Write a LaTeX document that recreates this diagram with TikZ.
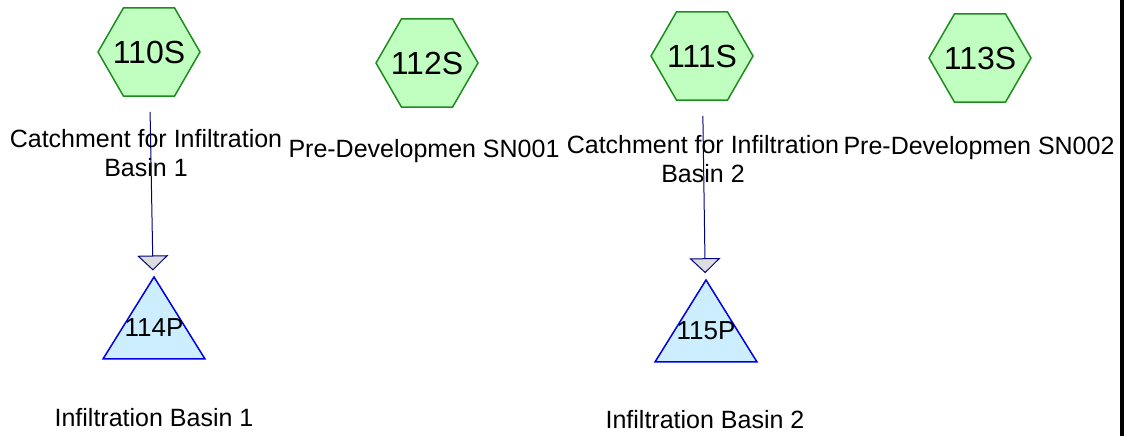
\documentclass[tikz,border=0pt]{standalone}
\usepackage{fontspec}
\setmainfont{Liberation Sans}
\usetikzlibrary{shapes.geometric,arrows.meta}
\definecolor{hexfill}{RGB}{192,255,192}
\definecolor{hexline}{RGB}{30,140,30}
\definecolor{pondfill}{RGB}{204,238,255}
\definecolor{pondline}{RGB}{0,0,225}
\definecolor{flowline}{RGB}{0,0,128}
\definecolor{tipfill}{RGB}{221,221,221}
\newcommand{\nodeid}[1]{\makebox[0pt]{#1}}
\begin{document}
\begin{tikzpicture}[
  x=1pt,y=-1pt,
  subcat/.style={draw=hexline, line width=1.5pt, fill=hexfill, regular polygon, regular polygon sides=6, minimum size=102pt, inner sep=0pt, font=\fontsize{32}{32}\selectfont},
  pond/.style={draw=pondline, line width=1.5pt, fill=pondfill, isosceles triangle, isosceles triangle stretches, shape border rotate=90, minimum width=102pt, minimum height=82pt, inner sep=0pt, font=\fontsize{26}{26}\selectfont},
  flow/.style={draw=flowline, line width=1pt, -{Triangle[width=31pt,length=15pt,fill=tipfill]}, shorten <=15pt, shorten >=6pt},
  lbl/.style={font=\fontsize{25}{29}\selectfont, inner sep=0pt, align=center}
]
\useasboundingbox (0,0) rectangle (1140,436);

% subcatchments
\node[subcat] (110S) at (149,52) {\nodeid{110S}};
\node[subcat] (112S) at (427,63) {\nodeid{112S}};
\node[subcat] (111S) at (702,56) {\nodeid{111S}};
\node[subcat] (113S) at (980,58) {\nodeid{113S}};

% ponds
\node[pond, anchor=apex] (114P) at (154,275) {\nodeid{114P}};
\node[pond, anchor=apex] (115P) at (706,278) {\nodeid{115P}};

\draw[flow] (110S) -- (114P);
\draw[flow] (111S) -- (115P);

\node[lbl, anchor=base] (l110) at (146,176) {Catchment for Infiltration\\Basin 1};
\node[lbl, anchor=base] (l112) at (424,157) {Pre-Developmen SN001};
\node[lbl, anchor=base] (l111) at (703,182) {Catchment for Infiltration\\Basin 2};
\node[lbl, anchor=base] (l113) at (979,154) {Pre-Developmen SN002};
\node[lbl, anchor=base] (l114) at (154,426) {Infiltration Basin 1};
\node[lbl, anchor=base] (l115) at (705,428) {Infiltration Basin 2};

\draw[line width=3.5pt] (1122,0) -- (1122,436);
\end{tikzpicture}
\end{document}
